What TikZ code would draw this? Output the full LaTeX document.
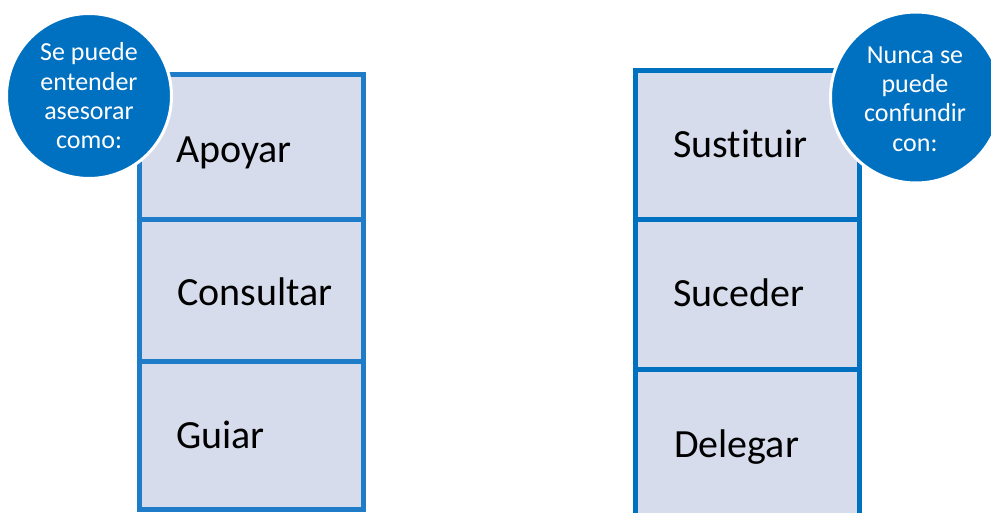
\documentclass[tikz,border=0pt]{standalone}
\usepackage{fontspec}
\setmainfont[Ligatures=NoCommon]{Carlito}
\definecolor{cblue}{RGB}{0,112,192}
\definecolor{lblue}{RGB}{30,124,200}
\definecolor{boxfill}{RGB}{214,220,235}
\begin{document}
\begin{tikzpicture}[x=1pt,y=-1pt,
  cell/.style={draw=#1,fill=boxfill,line width=4.5pt},
  lbl/.style={anchor=base west,inner sep=0pt,font=\fontsize{40}{48}\selectfont},
  bubble/.style={circle,fill=cblue,draw=white,line width=3pt,inner sep=0pt},
  btext/.style={align=center,inner sep=0pt,text=white,font=\fontsize{26}{29.3}\selectfont}]
\useasboundingbox (0,0) rectangle (991,512);
% left column
\draw[cell=lblue] (139.5,74.5) rectangle (363.5,219.5);
\draw[cell=lblue] (139.5,219.5) rectangle (363.5,361.5);
\draw[cell=lblue] (139.5,361.5) rectangle (363.5,509.5);
\node[lbl] (apoyar) at (176,162) {Apoyar};
\node[lbl] (consultar) at (177,305) {Consultar};
\node[lbl] (guiar) at (176,448) {Guiar};
% right column
\draw[cell=cblue] (635.5,70.5) rectangle (859.5,219.5);
\draw[cell=cblue] (635.5,219.5) rectangle (859.5,369.5);
\draw[cell=cblue] (635.5,369.5) rectangle (859.5,518);
\node[lbl] (sustituir) at (673,157) {Sust\kern0pt ituir};
\node[lbl] (suceder) at (673,306) {Suceder};
\node[lbl] (delegar) at (674,457) {Delegar};
% bubbles
\node[bubble,minimum size=165pt] (lcirc) at (89,96) {};
\node[btext] (ltext) at (89,96) {Se puede\\entender\\asesorar\\como:};
\node[bubble,minimum size=171pt] (rcirc) at (916,97.5) {};
\node[btext] (rtext) at (915,99) {Nunca se\\puede\\confundir\\con:};
\end{tikzpicture}
\end{document}
